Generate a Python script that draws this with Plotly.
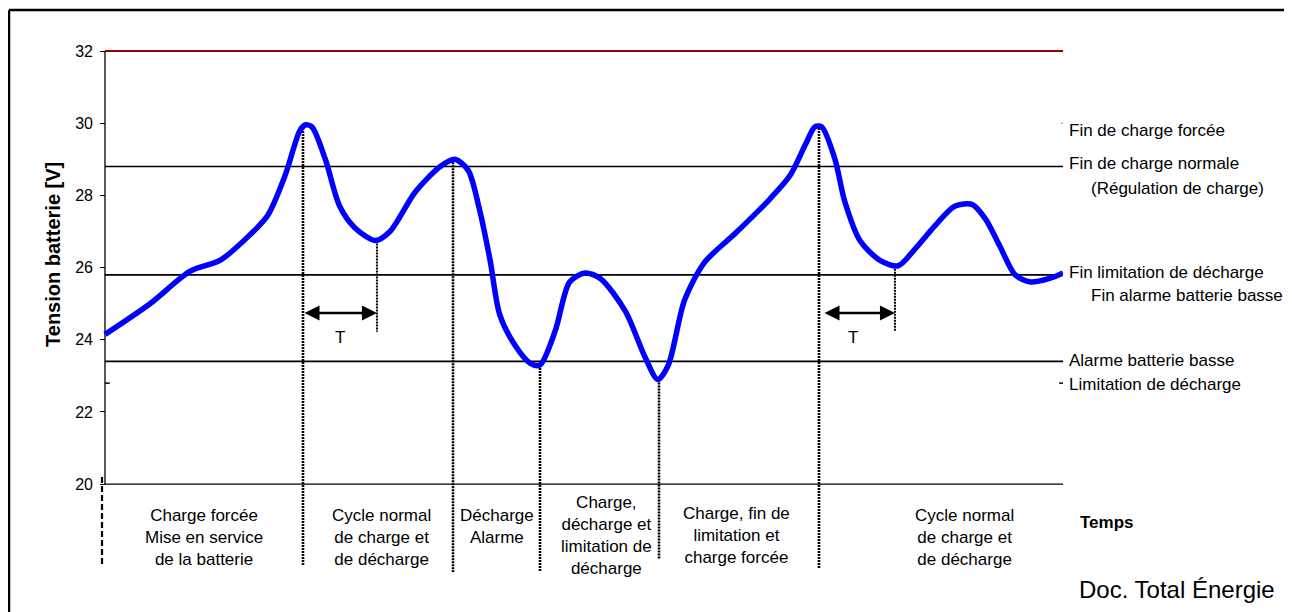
import plotly.graph_objects as go

# ---------------- data ----------------
# time axis in arbitrary units (0 .. 100), battery voltage in volts
time_pts = [0, 4.7, 8.9, 12.0, 15.1, 17.0, 18.8, 20.35, 20.9, 21.6, 23.0, 24.5, 26.1, 28.2,
            29.75, 32.4, 35.0, 36.5, 37.9, 39.1, 40.2, 41.2, 42.8, 44.4, 45.4, 47.0, 48.5,
            50.1, 51.7, 54.3, 56.4, 57.7, 58.8, 60.5, 62.6, 65.8, 69.4, 71.5, 73.1, 74.1,
            74.8, 76.2, 77.2, 78.8, 80.9, 82.8, 84.5, 86.6, 88.7, 90.5, 91.9, 93.4, 95.0,
            96.6, 98.6, 100]
voltage = [24.15, 25.0, 25.9, 26.2, 26.9, 27.45, 28.55, 29.8, 29.95, 29.9, 29.0, 27.7, 27.1,
           26.75, 27.0, 28.1, 28.8, 29.0, 28.7, 27.6, 26.2, 24.7, 23.85, 23.35, 23.3, 24.25,
           25.6, 25.85, 25.7, 24.8, 23.5, 22.9, 23.3, 25.1, 26.15, 26.95, 27.9, 28.55, 29.4,
           29.9, 29.9, 29.0, 27.85, 26.75, 26.2, 26.05, 26.5, 27.15, 27.7, 27.75, 27.35, 26.6,
           25.8, 25.6, 25.7, 25.85]

max_level = 32.0
threshold_levels = [28.8, 25.8, 23.4]
limit_level = 22.8
forced_level = 30.0

# phase boundaries (dotted verticals)
vline_t = [20.67, 36.33, 45.41, 57.83, 74.53]
vline_top = [29.95, 29.0, 23.3, 22.9, 29.95]
vline_bottom = [17.76, 17.57, 17.57, 17.93, 17.65]

# period "T" markers
period_t = [28.39, 82.46]
period_top = [26.75, 26.05]
period_bottom = 24.22
arrow_start = [20.67, 74.95]
arrow_end = [28.39, 82.46]
arrow_level = 24.74
t_label_x = [24.5, 78.1]
t_label_y = 24.05

# start marker (dashed, left of the axis)
start_t = -0.31
start_top = 20.2
start_bottom = 17.71

y_ticks = [20, 22, 24, 26, 28, 30, 32]
y_min, y_max = 17.346, 32.1385
x_min, x_max = -0.52, 100

phase_labels = ["Charge forcée<br>Mise en service<br>de la batterie",
                "Cycle normal<br>de charge et<br>de décharge",
                "Décharge<br>Alarme",
                "Charge,<br>décharge et<br>limitation de<br>décharge",
                "Charge, fin de<br>limitation et<br>charge forcée",
                "Cycle normal<br>de charge et<br>de décharge"]
phase_x = [10.33, 28.91, 40.92, 52.30, 65.87, 89.67]
phase_y = [18.52, 18.52, 18.84, 18.59, 18.57, 18.52]

right_labels = ["Fin de charge forcée", "Fin de charge normale", "(Régulation de charge)",
                "Fin limitation de décharge", "Fin alarme batterie basse",
                "Alarme batterie basse", "Limitation de décharge"]
right_label_y = [29.81, 28.87, 28.2, 25.87, 25.24, 23.44, 22.77]
right_label_indent = [False, False, True, False, True, False, False]

FONT = "Arial, Liberation Sans, sans-serif"

fig = go.Figure()

# upper limit line
fig.add_trace(go.Scatter(x=[0, 100], y=[max_level, max_level], mode="lines",
                         line=dict(color="#8B0000", width=2.2), hoverinfo="skip"))
# threshold lines
for lv in threshold_levels:
    fig.add_trace(go.Scatter(x=[0, 100], y=[lv, lv], mode="lines",
                             line=dict(color="black", width=1.7), hoverinfo="skip"))
# small marks of the limitation / forced levels
fig.add_trace(go.Scatter(x=[0, 0.5], y=[limit_level, limit_level], mode="lines",
                         line=dict(color="black", width=1.5), hoverinfo="skip"))
fig.add_trace(go.Scatter(x=[99.6, 100], y=[limit_level, limit_level], mode="lines",
                         line=dict(color="black", width=1.5), hoverinfo="skip"))
fig.add_trace(go.Scatter(x=[99.8, 100], y=[forced_level, forced_level], mode="lines",
                         line=dict(color="#888", width=1), hoverinfo="skip"))

# axes lines (y axis from 20 to 32, time axis at 20)
fig.add_trace(go.Scatter(x=[0, 0], y=[y_ticks[0], y_ticks[-1]], mode="lines",
                         line=dict(color="black", width=1.3), hoverinfo="skip"))
fig.add_trace(go.Scatter(x=[0, 100], y=[y_ticks[0], y_ticks[0]], mode="lines",
                         line=dict(color="black", width=1.3), hoverinfo="skip"))

# dotted phase boundaries
for xv, top, bot in zip(vline_t, vline_top, vline_bottom):
    fig.add_trace(go.Scatter(x=[xv, xv], y=[top, bot], mode="lines",
                             line=dict(color="black", width=2.6, dash="2px,1px"),
                             hoverinfo="skip"))
for xv, top in zip(period_t, period_top):
    fig.add_trace(go.Scatter(x=[xv, xv], y=[top, period_bottom], mode="lines",
                             line=dict(color="black", width=2.0, dash="2px,1px"),
                             hoverinfo="skip"))
# dashed start marker
fig.add_trace(go.Scatter(x=[start_t, start_t], y=[start_top, start_bottom], mode="lines",
                         line=dict(color="black", width=2.2, dash="6px,3px"),
                         hoverinfo="skip"))

# battery voltage curve
fig.add_trace(go.Scatter(x=time_pts, y=voltage, mode="lines",
                         line=dict(color="#0000FF", width=5.5, shape="spline", smoothing=0.8),
                         hoverinfo="skip"))

annotations = []
# period arrows
for a0, a1 in zip(arrow_start, arrow_end):
    annotations.append(dict(x=a1, y=arrow_level, ax=a0, ay=arrow_level, xref="x", yref="y",
                            axref="x", ayref="y", text="", showarrow=True,
                            arrowside="end+start", arrowhead=2, arrowsize=1.2,
                            arrowwidth=2.5, arrowcolor="black", standoff=0, startstandoff=0))
for tx in t_label_x:
    annotations.append(dict(x=tx, y=t_label_y, xref="x", yref="y", text="T", showarrow=False,
                            font=dict(family=FONT, size=17, color="black")))
# phase labels
for txt, px, py in zip(phase_labels, phase_x, phase_y):
    annotations.append(dict(x=px, y=py, xref="x", yref="y", text=txt, showarrow=False,
                            xanchor="center", yanchor="middle", align="center",
                            font=dict(family=FONT, size=17, color="black")))
# right labels
for txt, ly, ind in zip(right_labels, right_label_y, right_label_indent):
    annotations.append(dict(x=1.027 if ind else 1.0042, y=ly, xref="paper", yref="y",
                            text=txt, showarrow=False, xanchor="left", yanchor="middle",
                            font=dict(family=FONT, size=17, color="black")))
# time label and source
annotations.append(dict(x=1.0156, y=18.95, xref="paper", yref="y", text="<b>Temps</b>",
                        showarrow=False, xanchor="left", yanchor="middle",
                        font=dict(family=FONT, size=17, color="black")))
annotations.append(dict(x=1.0145, y=-0.0169, xref="paper", yref="paper",
                        text="Doc. Total Énergie", showarrow=False, xanchor="left",
                        yanchor="middle", font=dict(family=FONT, size=24, color="black")))
# y axis title
annotations.append(dict(x=-0.0488, y=26.35, xref="paper", yref="y",
                        text="<b>Tension batterie [V]</b>", textangle=-90, showarrow=False,
                        xanchor="center", yanchor="middle",
                        font=dict(family=FONT, size=20, color="black")))

# outer frame: only top and left edges are visible in the reference
frame = [
    dict(type="line", xref="paper", yref="paper", x0=-0.0945, x1=1.3, y0=1.0674, y1=1.0674,
         line=dict(color="black", width=2.5)),
    dict(type="line", xref="paper", yref="paper", x0=-0.0945, x1=-0.0945, y0=-0.2, y1=1.0674,
         line=dict(color="black", width=2.5)),
]

fig.update_layout(
    width=1276, height=604, autosize=False,
    margin=dict(l=92, r=221, t=38, b=32, pad=0),
    paper_bgcolor="white", plot_bgcolor="white",
    showlegend=False,
    annotations=annotations,
    shapes=frame,
    xaxis=dict(range=[x_min, x_max], visible=False, fixedrange=True),
    yaxis=dict(range=[y_min, y_max], tickvals=y_ticks, ticktext=[str(v) for v in y_ticks],
               ticks="inside", ticklen=5, tickwidth=1.2, tickcolor="black",
               showline=False, showgrid=False, zeroline=False, ticklabelstandoff=6,
               tickfont=dict(family=FONT, size=16, color="black"), fixedrange=True),
)

fig.write_html("out.html")
